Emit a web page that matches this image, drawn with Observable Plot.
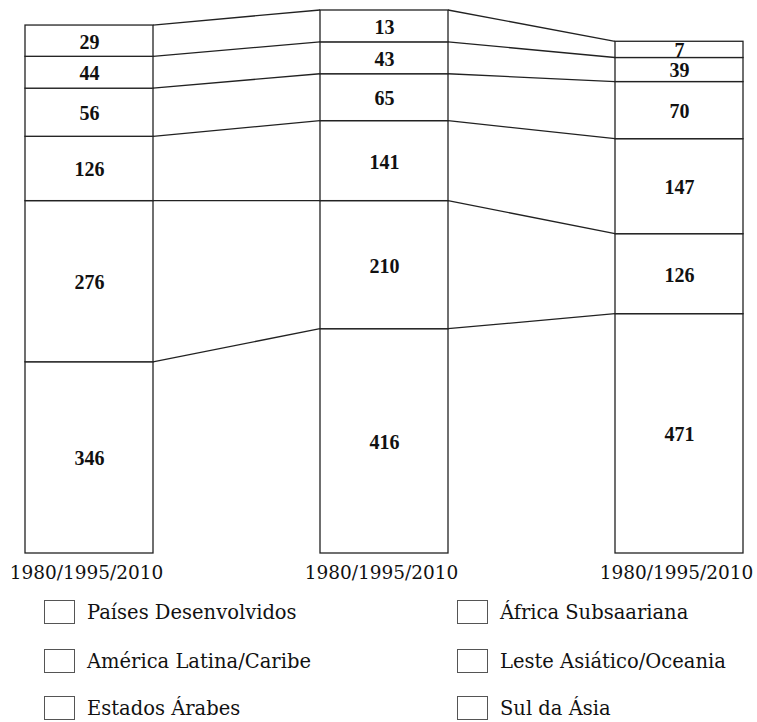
<!DOCTYPE html>
<html><head><meta charset="utf-8">
<script src="https://cdn.jsdelivr.net/npm/d3@7"></script>
<script src="https://cdn.jsdelivr.net/npm/@observablehq/plot@0.6"></script>
<style>
body{margin:0;background:#fff;}
#chart svg{display:block;}
#legend{position:relative;width:757px;height:130px;overflow:hidden;font-family:"DejaVu Serif",serif;font-size:19.5px;color:#111;}
.item{position:absolute;display:flex;align-items:center;height:24px;white-space:nowrap;}
.sw{width:31px;height:24px;border:1.5px solid #555;box-sizing:border-box;margin-right:12px;background:#fff;flex:none;}
</style></head><body>
<div id="chart"></div><div id="legend"></div>
<script>
// Categories (bars) and tick labels
const years = ["1980", "1995", "2010"];
const xTickLabels = ["1980/1995/2010", "1980/1995/2010", "1980/1995/2010"];
// Regions, top of the stack to bottom (legend order)
const regions = ["Países Desenvolvidos", "América Latina/Caribe", "Estados Árabes",
                 "África Subsaariana", "Leste Asiático/Oceania", "Sul da Ásia"];
// Labelled values per bar, in region order
const values1980 = [29, 44, 56, 126, 276, 346];
const values1995 = [13, 43, 65, 141, 210, 416];
const values2010 = [7, 39, 70, 147, 126, 471];
// Segment lengths as the original figure draws them (it is not to scale),
// read off the picture in the same value units, in region order
const barExtent1980 = [52, 53, 80, 107, 268, 318];
const barExtent1995 = [53, 53, 78, 133, 213, 373];
const barExtent2010 = [27, 40, 95, 158, 133, 398];

const valueList = [values1980, values1995, values2010];
const extentList = [barExtent1980, barExtent1995, barExtent2010];

// Build stacked table (bottom-up)
const rows = [];
years.forEach((yr, j) => {
  const vals = valueList[j], ext = extentList[j];
  let acc = 0;
  for (let i = regions.length - 1; i >= 0; i--) {
    rows.push({year: yr, region: regions[i], value: vals[i], y1: acc, y2: acc + ext[i]});
    acc += ext[i];
  }
});
const totals = extentList.map(v => d3.sum(v));

function linksMark(index, scales) {
  const g = d3.create("svg:g").attr("stroke", "#222").attr("stroke-width", 1.3).attr("fill", "none");
  const bw = scales.x.bandwidth();
  for (let j = 0; j < years.length - 1; j++) {
    const a = rows.filter(r => r.year === years[j]);
    const b = rows.filter(r => r.year === years[j + 1]);
    a.forEach((ra, k) => {
      const rb = b[k];
      g.append("line")
        .attr("x1", scales.x(ra.year) + bw).attr("y1", scales.y(ra.y2))
        .attr("x2", scales.x(rb.year)).attr("y2", scales.y(rb.y2));
    });
  }
  return g.node();
}

const chart = Plot.plot({
  width: 757, height: 592,
  marginLeft: 25, marginRight: 13, marginTop: 10, marginBottom: 39,
  style: {fontFamily: "'DejaVu Serif', serif", background: "white", color: "#111", overflow: "visible"},
  x: {domain: years, paddingInner: 0.566, paddingOuter: 0, axis: null},
  y: {domain: [0, d3.max(totals)], axis: null},
  marks: [
    linksMark,
    Plot.barY(rows, {x: "year", y1: "y1", y2: "y2", fill: "white", stroke: "#222", strokeWidth: 1.3}),
    Plot.text(rows, {x: "year", y: d => (d.y1 + d.y2) / 2, text: d => String(d.value), dy: 1,
      fontFamily: "'Liberation Serif', serif", fontWeight: "bold", fontSize: 20, fill: "#111"}),
    Plot.axisX({tickSize: 0, tickPadding: 12, fontSize: 18.5, fill: "#111", dx: -3,
      tickFormat: d => xTickLabels[years.indexOf(d)], label: null})
  ]
});
document.getElementById("chart").appendChild(chart);

// Legend
const legend = document.getElementById("legend");
const rowTops = [8, 57, 104];
regions.forEach((name, i) => {
  const col = Math.floor(i / 3), r = i % 3;
  const item = document.createElement("div");
  item.className = "item";
  item.style.left = (col === 0 ? 44 : 457) + "px";
  item.style.top = rowTops[r] + "px";
  const sw = document.createElement("span"); sw.className = "sw";
  const tx = document.createElement("span"); tx.textContent = name;
  item.appendChild(sw); item.appendChild(tx);
  legend.appendChild(item);
});
</script>
</body></html>
